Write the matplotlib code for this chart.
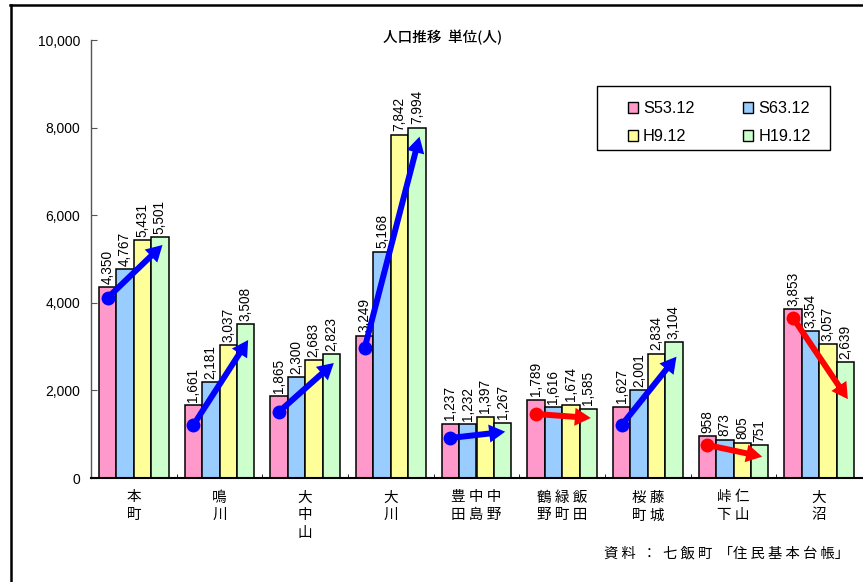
import matplotlib
matplotlib.use('Agg')
import matplotlib.pyplot as plt
import numpy as np
from matplotlib.lines import Line2D
from matplotlib.patches import Rectangle, Patch

SP = " "
categories = ["本\n町", "鳴\n川", "大\n中\n山", "大\n川",
              SP.join("豊中中") + "\n" + SP.join("田島野"),
              SP.join("鶴緑飯") + "\n" + SP.join("野町田"),
              SP.join("桜藤") + "\n" + SP.join("町城"),
              SP.join("峠仁") + "\n" + SP.join("下山"),
              "大\n沼"]
series_names = ["S53.12", "S63.12", "H9.12", "H19.12"]
s53 = [4350, 1661, 1865, 3249, 1237, 1789, 1627, 958, 3853]
s63 = [4767, 2181, 2300, 5168, 1232, 1616, 2001, 873, 3354]
h9 = [5431, 3037, 2683, 7842, 1397, 1674, 2834, 805, 3057]
h19 = [5501, 3508, 2823, 7994, 1267, 1585, 3104, 751, 2639]
# trend arrows (start value near first bar, end value near last bar)
arrow_start = [4116, 1210, 1514, 2975, 913, 1461, 1210, 753, 3653]
arrow_end = [5320, 3150, 2626, 7793, 1057, 1370, 2770, 487, 1800]

title = "人口推移  単位(人)"
source = "資 料  ：  七 飯 町  「住 民 基 本 台 帳」"
colors = ["#FF99CC", "#99CCFF", "#FFFF99", "#CCFFCC"]
CJK = ['Noto Sans CJK JP', 'DejaVu Sans']
NUM = ['Liberation Sans', 'DejaVu Sans']

W, H = 863, 582
fig = plt.figure(figsize=(W / 100, H / 100), dpi=100)
ax = fig.add_axes([91 / W, 1 - 478 / H, 771 / W, 438 / H])

data = [s53, s63, h9, h19]
x = np.arange(len(categories))
bw = 0.203
for i, (vals, c) in enumerate(zip(data, colors)):
    xs = x + (i - 1.5) * bw
    ax.bar(xs, vals, width=bw, color=c, edgecolor='black', linewidth=1.1, zorder=2)
    for xi, v in zip(xs, vals):
        ax.annotate(f"{v:,}", (xi, v), xytext=(0, 2.5), textcoords='offset points',
                    rotation=90, ha='center', va='bottom', fontsize=9.8,
                    family=NUM, zorder=3)

for xi, a0, a1 in zip(x, arrow_start, arrow_end):
    col = 'blue' if a1 > a0 else 'red'
    xa = xi - 1.5 * bw
    xb = xi + 1.5 * bw + 0.03
    ax.annotate("", xy=(xb, a1), xytext=(xa, a0),
                arrowprops=dict(arrowstyle="simple,head_length=1.15,head_width=1.3,tail_width=0.43",
                                mutation_scale=10, color=col, shrinkA=0, shrinkB=0, lw=0),
                zorder=5)
    ax.plot([xa], [a0], 'o', color=col, markersize=10, zorder=6, markeredgewidth=0)

ax.set_xlim(-0.5, len(categories) - 0.5)
ax.set_ylim(0, 10000)
ax.set_yticks(np.arange(0, 10001, 2000))
ax.set_yticklabels([f"{v:,}" for v in range(0, 10001, 2000)], family=NUM, fontsize=10)
ax.tick_params(axis='y', direction='in', length=4, pad=8, color='#555555')
ax.set_xticks(x)
ax.set_xticklabels(categories, family=CJK, fontsize=10.5, linespacing=1.35, va='top')
ax.tick_params(axis='x', which='major', length=0, pad=9)
ax.set_xticks(x[:-1] + 0.5, minor=True)
ax.tick_params(axis='x', which='minor', direction='in', length=3, color='black')
for s in ['top', 'right']:
    ax.spines[s].set_visible(False)
ax.spines['left'].set_color('#555555')
ax.spines['left'].set_linewidth(1.0)
ax.spines['bottom'].set_color('black')
ax.spines['bottom'].set_linewidth(1.5)

fig.text(443 / W, 1 - 37 / H, title, ha='center', va='center',
         family=CJK, fontsize=10.5, fontweight='medium')

order = [0, 2, 1, 3]
handles = [Patch(facecolor=colors[i], edgecolor='black', linewidth=1.0) for i in order]
labels = [series_names[i] for i in order]
fig.legend(handles, labels, loc='upper left', bbox_to_anchor=(620 / W, 1 - 93 / H),
           ncol=2, frameon=False, prop={'family': NUM, 'size': 11.7},
           handlelength=0.62, handleheight=0.62, handletextpad=0.3,
           columnspacing=3.0, labelspacing=0.8, borderpad=0)
fig.add_artist(Rectangle((597 / W, 1 - 150 / H), 233 / W, 64 / H, transform=fig.transFigure,
                         facecolor='none', edgecolor='black', linewidth=1.0))

fig.text(849 / W, 1 - 553 / H, source, ha='right', va='center', family=CJK, fontsize=10.3)

fig.add_artist(Line2D([9.5 / W, 1], [1 - 5 / H, 1 - 5 / H], transform=fig.transFigure,
                      color='black', linewidth=1.8))
fig.add_artist(Line2D([10.5 / W, 10.5 / W], [0, 1 - 5 / H], transform=fig.transFigure,
                      color='black', linewidth=1.8))

fig.savefig('out.png', dpi=100)
